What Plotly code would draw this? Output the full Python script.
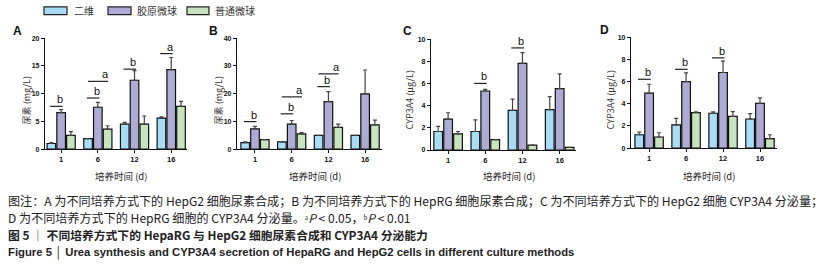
import plotly.graph_objects as go

# ---------------- data ----------------
days = ["1", "6", "12", "16"]
series_names = ["二维", "胶原微球", "普通微球"]
colors = ["#a9ddf6", "#aeacd4", "#c7e3bf"]

# Panel A: HepG2 urea (mg/L)
A_vals = [[1.0, 1.87, 4.5, 5.57], [6.55, 7.54, 12.4, 14.33], [2.45, 3.6, 4.5, 7.7]]
A_errs = [[1.17, None, 4.8, 5.8], [7.1, 8.4, 14.15, 16.5], [3.15, 4.2, 5.96, 8.6]]
# Panel B: HepaRG urea (mg/L)
B_vals = [[2.35, 2.56, 4.9, 4.9], [7.25, 9.0, 17.1, 19.9], [3.4, 5.5, 7.8, 8.7]]
B_errs = [[2.56, None, None, None], [8.2, 10.3, 20.7, 28.5], [None, 5.96, 9.0, 10.4]]
# Panel C: HepG2 CYP3A4 (ug/L)
C_vals = [[1.67, 1.67, 3.57, 3.65], [2.78, 5.32, 7.8, 5.53], [1.46, 0.94, 0.44, 0.24]]
C_errs = [[2.13, 2.72, 4.59, 4.82], [3.36, 5.47, 8.77, 6.87], [1.67, None, None, None]]
# Panel D: HepaRG CYP3A4 (ug/L)
D_vals = [[1.2, 2.09, 3.14, 2.62], [4.95, 5.99, 6.81, 4.03], [1.0, 3.2, 2.85, 0.85]]
D_errs = [[1.43, 2.67, 3.26, 3.1], [5.75, 6.78, 7.84, 4.52], [1.38, 3.26, 3.29, 1.2]]

# significance marks: (day index, letter, level, span)
A_sig = [(0, "b", 7.7, "short"), (1, "b", 9.2, "short"), (1, "a", 12.2, "long"),
         (2, "b", 14.4, "short"), (3, "a", 17.2, "short")]
B_sig = [(0, "b", 9.9, "short"), (1, "b", 12.7, "short"), (1, "a", 18.8, "long"),
         (2, "b", 22.5, "short"), (2, "a", 27.1, "long")]
C_sig = [(1, "b", 6.0, "short"), (2, "b", 9.2, "short")]
D_sig = [(0, "b", 6.2, "short"), (1, "b", 7.1, "short"), (2, "b", 8.13, "short")]

y_titles = ["尿素 (mg/L)", "尿素 (mg/L)", "CYP3A4 (μg/L)", "CYP3A4 (μg/L)"]
x_title = "培养时间 (d)"
panel_letters = ["A", "B", "C", "D"]

caption_lines = [
    "图注：A 为不同培养方式下的 HepG2 细胞尿素合成；B 为不同培养方式下的 HepRG 细胞尿素合成；C 为不同培养方式下的 HepG2 细胞 CYP3A4 分泌量；",
    "D 为不同培养方式下的 HepRG 细胞的 CYP3A4 分泌量。ᵃ<i>P</i> < 0.05，ᵇ<i>P</i> < 0.01",
    "图 5 │ 不同培养方式下的 HepaRG 与 HepG2 细胞尿素合成和 CYP3A4 分泌能力",
    "Figure 5 │ Urea synthesis and CYP3A4 secretion of HepaRG and HepG2 cells in different culture methods",
]

# ---------------- layout geometry (pixels) ----------------
W, H = 835, 265
def px(x):
    return x / W
def py(y):
    return 1 - y / H

panels = [
    dict(vals=A_vals, errs=A_errs, sig=A_sig, x=(45, 187), y=(35, 149), yr=20, dt=5, xr=(-0.44, 3.43)),
    dict(vals=B_vals, errs=B_errs, sig=B_sig, x=(237, 382), y=(35, 149), yr=40, dt=10, xr=(-0.49, 3.46)),
    dict(vals=C_vals, errs=C_errs, sig=C_sig, x=(431, 576), y=(36, 150), yr=10, dt=2, xr=(-0.46, 3.44)),
    dict(vals=D_vals, errs=D_errs, sig=D_sig, x=(631, 777), y=(34, 148), yr=10, dt=2, xr=(-0.49, 3.46)),
]
letter_pos = [(17, 28), (213, 28), (407, 28), (604, 27)]
ytitle_x = [26, 218, 409, 610]

fig = go.Figure()
shapes = []
annotations = []
tickfont = dict(family="Liberation Sans", size=7, color="#111", weight="bold")

for pi, p in enumerate(panels):
    sfx = "" if pi == 0 else str(pi + 1)
    xa, ya = "x" + sfx, "y" + sfx
    for si in range(3):
        vals = p["vals"][si]
        errs = p["errs"][si]
        plus = [(e - v) if e is not None else 0 for v, e in zip(vals, errs)]
        fig.add_trace(go.Bar(
            x=list(range(len(days))), y=vals, name=series_names[si],
            marker=dict(color=colors[si], line=dict(color="#111", width=1.2)),
            error_y=dict(type="data", array=plus, arrayminus=[0] * len(vals), symmetric=False,
                         color="#444", thickness=1.2, width=2),
            offsetgroup=str(si), xaxis=xa, yaxis=ya, showlegend=False,
        ))
    fig.update_layout(**{
        ("xaxis" + sfx): dict(domain=[px(p["x"][0]), px(p["x"][1])], anchor=ya, range=list(p["xr"]),
                              tickmode="array", tickvals=list(range(len(days))), ticktext=days,
                              showline=True, linecolor="#111", linewidth=1.3, ticks="outside",
                              ticklen=3, tickcolor="#111", tickwidth=1, showgrid=False, zeroline=False,
                              tickfont=dict(family="Liberation Sans", size=7.5, color="#111", weight="bold"),
                              fixedrange=True),
        ("yaxis" + sfx): dict(domain=[py(p["y"][1]), py(p["y"][0])], anchor=xa, range=[0, p["yr"]],
                              tickmode="linear", tick0=0, dtick=p["dt"],
                              showline=True, linecolor="#111", linewidth=1.3, ticks="outside",
                              ticklen=3, tickcolor="#111", tickwidth=1, showgrid=False, zeroline=False,
                              tickfont=tickfont, fixedrange=True),
    })
    # significance marks
    for (di, letter, lvl, span) in p["sig"]:
        if span == "short":
            x0, x1, lx = di - 0.30, di + 0.04, di - 0.03
        else:
            x0, x1, lx = di - 0.27, di + 0.28, di + 0.21
        shapes.append(dict(type="line", xref=xa, yref=ya, x0=x0, x1=x1, y0=lvl, y1=lvl,
                           line=dict(color="#222", width=1.2)))
        annotations.append(dict(xref=xa, yref=ya, x=lx, y=lvl, text=letter, showarrow=False,
                                yanchor="bottom", xanchor="center", yshift=-1,
                                font=dict(family="Liberation Sans", size=11, color="#111")))
    # panel letter
    annotations.append(dict(xref="paper", yref="paper", x=px(letter_pos[pi][0]), y=py(letter_pos[pi][1]),
                            text=panel_letters[pi], showarrow=False,
                            xanchor="center", yanchor="middle",
                            font=dict(family="Liberation Sans", size=12, color="#111", weight="bold")))
    # y title
    annotations.append(dict(xref="paper", yref="paper", x=px(ytitle_x[pi]), y=py(99),
                            text=y_titles[pi], showarrow=False, textangle=-90,
                            xanchor="center", yanchor="middle",
                            font=dict(family="Noto Sans CJK SC", size=9, color="#333")))
    # x title
    annotations.append(dict(xref="paper", yref="paper", x=px((p["x"][0] + p["x"][1]) / 2 + 5), y=py(177),
                            text=x_title, showarrow=False, xanchor="center", yanchor="middle",
                            font=dict(family="Noto Sans CJK SC", size=9.5, color="#222")))

# legend (manual)
leg_boxes = [(44, 67, 72), (108, 131, 135), (187, 209, 213)]
for si, (bx0, bx1, tx) in enumerate(leg_boxes):
    shapes.append(dict(type="rect", xref="paper", yref="paper", x0=px(bx0), x1=px(bx1),
                       y0=py(11), y1=py(3), fillcolor=colors[si], line=dict(color="#222", width=1.2)))
    annotations.append(dict(xref="paper", yref="paper", x=px(tx), y=py(7), text=series_names[si],
                            showarrow=False, xanchor="left", yanchor="middle",
                            font=dict(family="Noto Sans CJK SC", size=10, color="#333")))

# caption
cap_y = [202, 219, 237, 255]
cap_font = [
    dict(family="Noto Sans CJK SC", size=12.1, color="#222"),
    dict(family="Noto Sans CJK SC", size=12.1, color="#222"),
    dict(family="Noto Sans CJK SC", size=11.8, color="#222", weight="bold"),
    dict(family="Liberation Sans", size=11.3, color="#222", weight="bold"),
]
for li, line in enumerate(caption_lines):
    annotations.append(dict(xref="paper", yref="paper", x=px(6), y=py(cap_y[li]), text=line,
                            showarrow=False, xanchor="left", yanchor="middle", font=cap_font[li]))

fig.update_layout(
    width=W, height=H, margin=dict(l=0, r=0, t=0, b=0),
    paper_bgcolor="white", plot_bgcolor="white",
    barmode="group", bargap=0.2, bargroupgap=0.12,
    showlegend=False, shapes=shapes, annotations=annotations,
)

fig.write_html("out.html", config={"displayModeBar": False},
               post_script="document.body.style.margin='0';document.body.style.padding='0';")
